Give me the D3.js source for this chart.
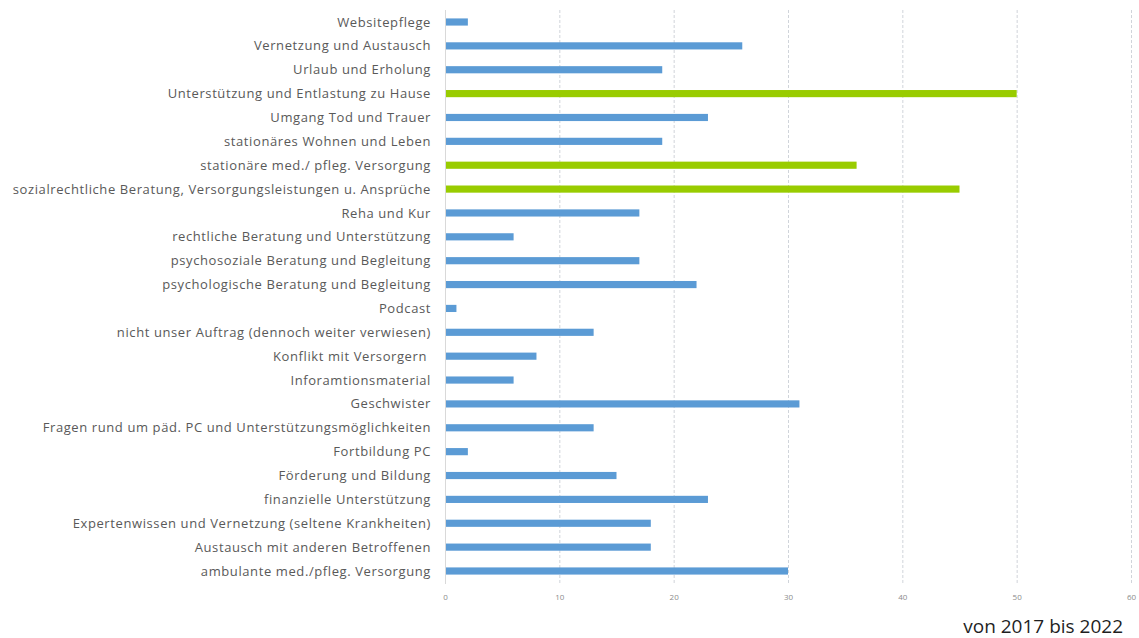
<!DOCTYPE html>
<html>
<head>
<meta charset="utf-8">
<script src="https://cdn.jsdelivr.net/npm/d3@7"></script>
<style>
  html, body { margin: 0; padding: 0; background: #fff; }
  svg { display: block; font-family: "Open Sans", "Liberation Sans", sans-serif; }
</style>
</head>
<body>
<div id="chart"></div>
<script>
// categories top to bottom, as in the picture
const categories = [
  "Websitepflege",
  "Vernetzung und Austausch",
  "Urlaub und Erholung",
  "Unterstützung und Entlastung zu Hause",
  "Umgang Tod und Trauer",
  "stationäres Wohnen und Leben",
  "stationäre med./ pfleg. Versorgung",
  "sozialrechtliche Beratung, Versorgungsleistungen u. Ansprüche",
  "Reha und Kur",
  "rechtliche Beratung und Unterstützung",
  "psychosoziale Beratung und Begleitung",
  "psychologische Beratung und Begleitung",
  "Podcast",
  "nicht unser Auftrag (dennoch weiter verwiesen)",
  "Konflikt mit Versorgern ",
  "Inforamtionsmaterial",
  "Geschwister",
  "Fragen rund um päd. PC und Unterstützungsmöglichkeiten",
  "Fortbildung PC",
  "Förderung und Bildung",
  "finanzielle Unterstützung",
  "Expertenwissen und Vernetzung (seltene Krankheiten)",
  "Austausch mit anderen Betroffenen",
  "ambulante med./pfleg. Versorgung"
];
const values = [2, 26, 19, 50, 23, 19, 36, 45, 17, 6, 17, 22, 1, 13, 8, 6, 31, 13, 2, 15, 23, 18, 18, 30];
// the three top topics are highlighted in green
const highlighted = [
  "Unterstützung und Entlastung zu Hause",
  "stationäre med./ pfleg. Versorgung",
  "sozialrechtliche Beratung, Versorgungsleistungen u. Ansprüche"
];
const xTicks = [0, 10, 20, 30, 40, 50, 60];
const footnote = "von 2017 bis 2022";

const width = 1139;
const height = 638;
const margin = { top: 10, right: 8, bottom: 54, left: 445 };

const svg = d3.select("#chart")
  .append("svg")
  .attr("width", width)
  .attr("height", height);

const x = d3.scaleLinear()
  .domain([0, 60])
  .range([margin.left, 1131]);

// 24 rows, centres from y=22 to y=571
const step = (571 - 22) / (categories.length - 1);
const y = d3.scaleBand()
  .domain(categories)
  .range([22 - step / 2, 571 + step / 2])
  .paddingInner(0.7)
  .paddingOuter(0.35);

// dashed vertical gridlines
svg.append("g")
  .selectAll("line")
  .data(xTicks.filter((d) => d > 0))
  .join("line")
  .attr("x1", (d) => x(d) + 0.5)
  .attr("x2", (d) => x(d) + 0.5)
  .attr("y1", 10)
  .attr("y2", 584)
  .attr("stroke", "#d0d4da")
  .attr("stroke-dasharray", "3,2");

// category axis line
svg.append("line")
  .attr("x1", x(0) + 0.5)
  .attr("x2", x(0) + 0.5)
  .attr("y1", 10)
  .attr("y2", 584)
  .attr("stroke", "#d9d9d9");

// bars
svg.append("g")
  .selectAll("rect")
  .data(categories)
  .join("rect")
  .attr("x", x(0) + 1)
  .attr("y", (d) => y(d))
  .attr("width", (d, i) => x(values[i]) - x(0) - 1)
  .attr("height", y.bandwidth())
  .attr("fill", (d) => highlighted.includes(d) ? "#99cc00" : "#5b9bd5");

// category labels
svg.append("g")
  .selectAll("text")
  .data(categories)
  .join("text")
  .attr("x", 431)
  .attr("y", (d) => y(d) + y.bandwidth() / 2)
  .attr("dy", "0.35em")
  .attr("text-anchor", "end")
  .attr("font-size", 13)
  .attr("letter-spacing", 0.6)
  .attr("fill", "#595959")
  .style("white-space", "pre")
  .text((d) => d);

// value axis tick labels
const xAxis = d3.axisBottom(x).tickValues(xTicks).tickSize(0).tickPadding(0);
const gx = svg.append("g")
  .attr("transform", "translate(0,594)")
  .call(xAxis);
gx.select(".domain").remove();
gx.selectAll("text")
  .attr("font-size", 8)
  .attr("font-family", "\"Open Sans\", sans-serif")
  .attr("fill", "#8c8c8c");

// footnote
svg.append("text")
  .attr("x", 1123)
  .attr("y", 633)
  .attr("text-anchor", "end")
  .attr("font-size", 19)
  .attr("fill", "#1f1f1f")
  .text(footnote);
</script>
</body>
</html>
